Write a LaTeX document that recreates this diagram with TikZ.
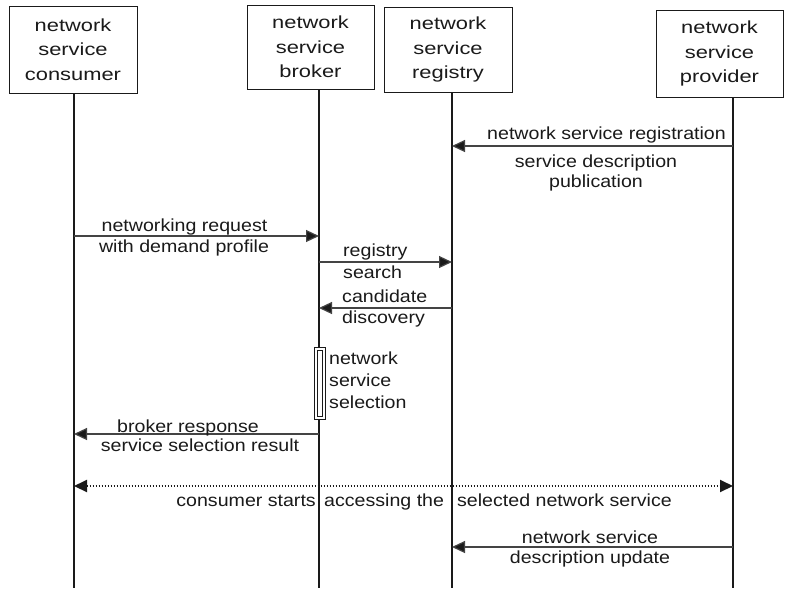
\documentclass[tikz,border=0pt]{standalone}
\usepackage{fontspec}
\usetikzlibrary{arrows.meta}
\newfontfamily\boxfam[FakeStretch=1.25]{Liberation Sans}
\newfontfamily\msgfam[FakeStretch=1.12]{Liberation Sans}
\newcommand{\boxfont}{\boxfam\fontsize{17.5}{24.5}\selectfont}
\newcommand{\msgfont}{\msgfam\fontsize{17.5}{21}\selectfont}
\definecolor{ink}{HTML}{1A1A1A}
\definecolor{msgline}{HTML}{444444}
\tikzset{
  actor/.style={draw=ink, line width=0.9pt, fill=white, align=center, font=\boxfont, text=ink, inner sep=0pt},
  lifeline/.style={draw=ink, line width=1.9pt},
  msg/.style={draw=msgline, line width=1.2pt, -{Triangle[length=13pt,width=12pt,fill=ink]}},
  dmsg/.style={draw=ink, line width=2pt, dash pattern=on 1.4pt off 1.6pt,
    {Triangle[length=13pt,width=12pt,fill=ink]}-{Triangle[length=13pt,width=12pt,fill=ink]}},
  lbl/.style={font=\msgfont, text=ink, inner sep=0pt, anchor=base},
  lblw/.style={lbl, anchor=base west},
  lble/.style={lbl, anchor=base east},
  actbox/.style={draw=ink, line width=0.9pt, double=white, double distance=1.6pt, fill=white}
}
\begin{document}
\begin{tikzpicture}[x=1pt,y=-1pt]
\useasboundingbox (0,0) rectangle (788,590);
\fill[white] (0,0) rectangle (788,590);

% actor boxes
\node[actor, minimum width=128pt, minimum height=87pt] (C) at (73,49.5) {network\\service\\consumer};
\node[actor, minimum width=127pt, minimum height=84pt] (B) at (310.5,47) {network\\service\\broker};
\node[actor, minimum width=128pt, minimum height=85pt] (R) at (448,49.5) {network\\service\\registry};
\node[actor, minimum width=127pt, minimum height=87pt] (P) at (719.5,53.5) {network\\service\\provider};

% lifeline ends
\coordinate (Ce) at (74,588);
\coordinate (Be) at (319,588);
\coordinate (Re) at (452,588);
\coordinate (Pe) at (733,588);

% text crossed by lifelines (drawn first)
\node[lble] (t7a) at (316,506) {consumer starts};
\node[lblw] (t7b) at (324,506) {accessing the};
\node[lble] (t7c) at (672,506) {selected network service};

% lifelines
\draw[lifeline] (C.south -| Ce) -- (Ce);
\draw[lifeline] (B.south -| Be) -- (Be);
\draw[lifeline] (R.south -| Re) -- (Re);
\draw[lifeline] (P.south -| Pe) -- (Pe);

% message end points
\coordinate (m1s) at (733,146); \coordinate (m1e) at (452,146);
\coordinate (m2s) at (74,236);  \coordinate (m2e) at (319,236);
\coordinate (m3s) at (319,262); \coordinate (m3e) at (452,262);
\coordinate (m4s) at (452,308); \coordinate (m4e) at (319,308);
\coordinate (m6s) at (319,434); \coordinate (m6e) at (74,434);
\coordinate (m7s) at (74,486);  \coordinate (m7e) at (733,486);
\coordinate (m8s) at (733,547); \coordinate (m8e) at (452,547);

% messages
\draw[msg] (m1s) -- (m1e);
\node[lble] (t1a) at (726,139) {network service registration};
\node[lbl] (t1b) at (596,167) {service description};
\node[lbl] (t1c) at (596,187) {publication};

\draw[msg] (m2s) -- (m2e);
\node[lbl] (t2a) at (184.5,231) {networking request};
\node[lbl] (t2b) at (184,252) {with demand profile};

\draw[msg] (m3s) -- (m3e);
\node[lblw] (t3a) at (343,256) {registry};
\node[lblw] (t3b) at (343,278) {search};

\draw[msg] (m4s) -- (m4e);
\node[lblw] (t4a) at (342,302) {candidate};
\node[lblw] (t4b) at (342,323) {discovery};

% activation
\draw[actbox] (315.8,349) rectangle (323.8,418);
\node[lblw] (t5a) at (329,364) {network};
\node[lblw] (t5b) at (329,386) {service};
\node[lblw] (t5c) at (329,408) {selection};

\draw[msg] (m6s) -- (m6e);
\node[lbl] (t6a) at (188,432) {broker response};
\node[lbl] (t6b) at (200,451) {service selection result};

\draw[dmsg] (m7s) -- (m7e);

\draw[msg] (m8s) -- (m8e);
\node[lbl] (t8a) at (590,543) {network service};
\node[lbl] (t8b) at (590,563) {description update};
\end{tikzpicture}
\end{document}
